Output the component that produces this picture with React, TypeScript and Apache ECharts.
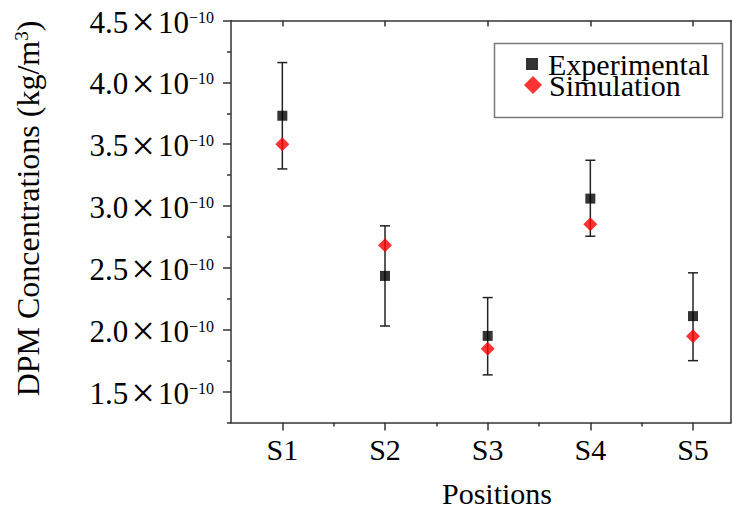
import { useEffect, useRef } from 'react';
import * as echarts from 'echarts';

// Values in units of 1e-10 kg/m^3
const positions = ['S1', 'S2', 'S3', 'S4', 'S5'];
const positionX = [1, 2, 3, 4, 5];
const experimental = [3.73, 2.435, 1.95, 3.06, 2.11];
const expErrLow = [3.3, 2.03, 1.635, 2.756, 1.75];
const expErrHigh = [4.16, 2.84, 2.26, 3.37, 2.46];
const simulation = [3.5, 2.683, 1.847, 2.852, 1.947];
const yMajorTicks = [1.5, 2.0, 2.5, 3.0, 3.5, 4.0, 4.5];
const yMinorTicks = [1.25, 1.75, 2.25, 2.75, 3.25, 3.75, 4.25];
const xMinorTicks = [1.5, 2.5, 3.5, 4.5];

const FONT = '"Liberation Serif", "Times New Roman", serif';
const AXIS_COLOR = '#333';

export default function App() {
  const ref = useRef<HTMLDivElement>(null);
  useEffect(() => {
    if (!ref.current) return;
    const chart = echarts.init(ref.current, undefined, { renderer: 'svg' });
    const axisLineStyle = { color: AXIS_COLOR, width: 1.5 };
    const option: any = {
      animation: false,
      backgroundColor: '#fff',
      grid: { left: 231, right: 1, top: 20.5, bottom: 89.5, containLabel: false, outerBoundsMode: 'none' },
      legend: [
        {
          data: [{ name: 'Experimental', icon: 'rect' }],
          left: 521,
          top: 44,
          itemWidth: 12,
          itemHeight: 12,
          selectedMode: false,
          textStyle: { fontSize: 30, fontFamily: FONT, color: '#000', lineHeight: 12, padding: [0, 0, 0, 5] },
        },
        {
          data: [{ name: 'Simulation', icon: 'diamond' }],
          left: 519,
          top: 65,
          itemWidth: 18,
          itemHeight: 18,
          selectedMode: false,
          textStyle: { fontSize: 30, fontFamily: FONT, color: '#000', lineHeight: 18, padding: [0, 0, 0, 2] },
        },
      ],
      graphic: [
        {
          type: 'rect',
          shape: { x: 494.5, y: 43.5, width: 228, height: 74 },
          style: { fill: 'none', stroke: '#777', lineWidth: 1.5 },
          z: 10,
        },
      ],
      xAxis: [
        {
          type: 'value',
          position: 'bottom',
          min: 0.5,
          max: 5.37,
          axisLine: { show: true, onZero: false, lineStyle: axisLineStyle },
          axisTick: { show: true, customValues: positionX, length: 8, lineStyle: axisLineStyle },
          axisLabel: {
            customValues: positionX,
            formatter: (v: number) => positions[Math.round(v) - 1] ?? '',
            fontSize: 30,
            fontFamily: FONT,
            color: '#000',
            margin: 12,
          },
          splitLine: { show: false },
          name: 'Positions',
          nameLocation: 'middle',
          nameGap: 57,
          nameTextStyle: { fontSize: 30, lineHeight: 28, fontFamily: FONT, color: '#000', padding: [0, 0, 0, 32] },
        },
        {
          type: 'value',
          position: 'bottom',
          min: 0.5,
          max: 5.37,
          axisLine: { show: false, onZero: false },
          axisTick: { show: true, customValues: xMinorTicks, length: 4, lineStyle: axisLineStyle },
          axisLabel: { show: false },
          splitLine: { show: false },
        },
        {
          type: 'value',
          position: 'top',
          min: 0.5,
          max: 5.37,
          axisLine: { show: true, onZero: false, lineStyle: axisLineStyle },
          axisTick: { show: true, inside: true, customValues: positionX, length: 6, lineStyle: axisLineStyle },
          axisLabel: { show: false },
          splitLine: { show: false },
        },
      ],
      yAxis: [
        {
          type: 'value',
          position: 'left',
          min: 1.25,
          max: 4.5,
          axisLine: { show: true, onZero: false, lineStyle: axisLineStyle },
          axisTick: { show: true, customValues: yMajorTicks, length: 8, lineStyle: axisLineStyle },
          axisLabel: {
            customValues: yMajorTicks,
            margin: 17,
            padding: [3, 0, 0, 0],
            formatter: (v: number) => `{n|${v.toFixed(1)}}{x|×}{n|10}{e|−10}`,
            rich: {
              n: { fontSize: 31, fontFamily: FONT, color: '#000', lineHeight: 30 },
              x: { fontSize: 42, fontFamily: FONT, color: '#000', lineHeight: 30, padding: [0, 3, 0, 3] },
              e: { fontSize: 16, fontFamily: FONT, color: '#000', lineHeight: 16, verticalAlign: 'top', padding: [2, 0, 0, 0] },
            },
          },
          splitLine: { show: false },
          name: 'DPM Concentrations (kg/m{s|3})',
          nameLocation: 'middle',
          nameGap: 187,
          nameTextStyle: {
            fontSize: 32,
            fontFamily: FONT,
            color: '#000',
            padding: [0, 0, 0, 26],
            rich: {
              s: { fontSize: 19, fontFamily: FONT, color: '#000', verticalAlign: 'top', lineHeight: 19 },
            },
          },
        },
        {
          type: 'value',
          position: 'left',
          min: 1.25,
          max: 4.5,
          axisLine: { show: false, onZero: false },
          axisTick: { show: true, customValues: yMinorTicks, length: 4, lineStyle: axisLineStyle },
          axisLabel: { show: false },
          splitLine: { show: false },
        },
        {
          type: 'value',
          position: 'right',
          min: 1.25,
          max: 4.5,
          axisLine: { show: true, onZero: false, lineStyle: axisLineStyle },
          axisTick: { show: false },
          axisLabel: { show: false },
          splitLine: { show: false },
        },
      ],
      series: [
        {
          name: 'errorbars',
          type: 'custom',
          xAxisIndex: 0,
          yAxisIndex: 0,
          silent: true,
          data: positionX.map((x, i) => [x, expErrLow[i], expErrHigh[i]]),
          encode: { x: 0, y: [1, 2] },
          renderItem: (_params: any, api: any) => {
            const x = api.value(0);
            const lo = api.coord([x, api.value(1)]);
            const hi = api.coord([x, api.value(2)]);
            const w = 5;
            const style = { stroke: '#222', lineWidth: 1.5 };
            return {
              type: 'group',
              children: [
                { type: 'line', shape: { x1: lo[0], y1: lo[1], x2: hi[0], y2: hi[1] }, style },
                { type: 'line', shape: { x1: hi[0] - w, y1: hi[1], x2: hi[0] + w, y2: hi[1] }, style },
                { type: 'line', shape: { x1: lo[0] - w, y1: lo[1], x2: lo[0] + w, y2: lo[1] }, style },
              ],
            };
          },
          z: 1,
        },
        {
          name: 'Experimental',
          type: 'scatter',
          xAxisIndex: 0,
          yAxisIndex: 0,
          symbol: 'rect',
          symbolSize: 10,
          itemStyle: { color: '#000' },
          data: positionX.map((x, i) => [x, experimental[i]]),
          z: 2,
        },
        {
          name: 'Simulation',
          type: 'scatter',
          xAxisIndex: 0,
          yAxisIndex: 0,
          symbol: 'diamond',
          symbolSize: 14,
          itemStyle: { color: '#ff0000' },
          data: positionX.map((x, i) => [x, simulation[i]]),
          z: 3,
        },
      ],
    };
    chart.setOption(option);
    return () => chart.dispose();
  }, []);
  return (
    <div
      ref={ref}
      style={{ position: 'fixed', left: 0, top: 0, width: 732, height: 512, background: '#fff' }}
    />
  );
}
